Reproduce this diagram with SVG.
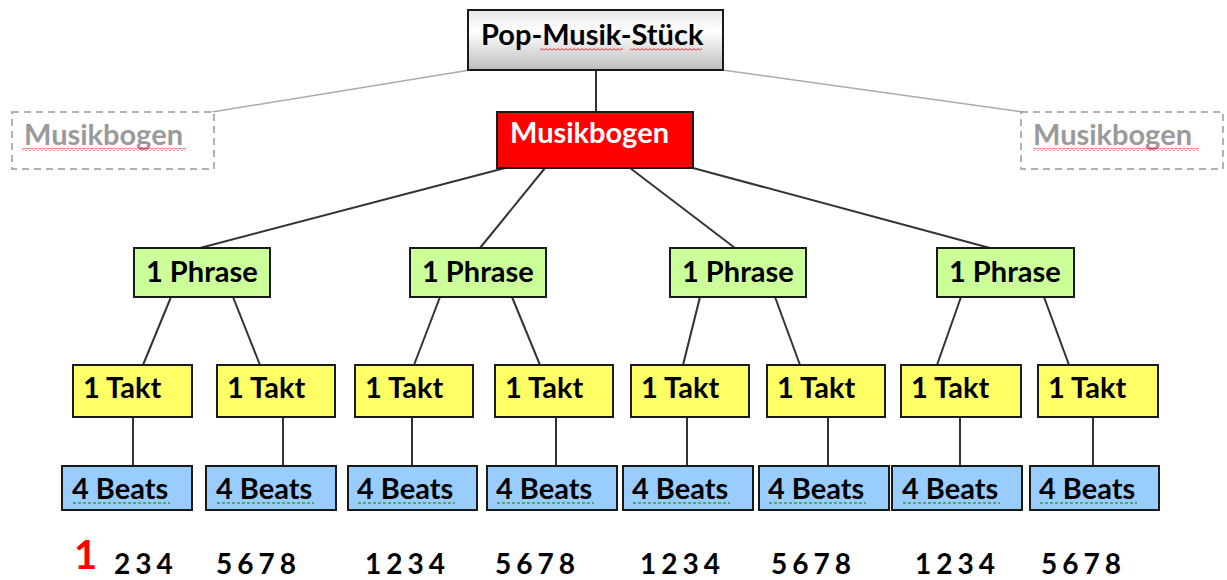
<svg xmlns="http://www.w3.org/2000/svg" width="1227" height="580" viewBox="0 0 1227 580">
<defs>
<linearGradient id="g" x1="0" y1="0" x2="0" y2="1">
<stop offset="0" stop-color="#e6e6e6"/>
<stop offset="0.35" stop-color="#ffffff"/>
<stop offset="1" stop-color="#bdbdbd"/>
</linearGradient>
<pattern id="wave" x="0" y="0" width="4" height="3" patternUnits="userSpaceOnUse">
<path d="M0,2.5 L2,0.5 L4,2.5" fill="none" stroke="#e02020" stroke-width="1"/>
</pattern>
<style>
text{font-family:Lato,"Open Sans","Liberation Sans",sans-serif;font-weight:bold;}
.box{stroke:#1a1a1a;stroke-width:2;}
.phr{fill:#ccff99;}
.tak{fill:#ffff66;}
.bea{fill:#99ccff;}
.t{font-size:29px;fill:#000;}
.dash{fill:#fff;stroke:#999;stroke-width:1.5;stroke-dasharray:7 5;}
.gt{font-size:29px;fill:#9a9a9a;}
.ln{stroke:#333;stroke-width:2;fill:none;}
.gl{stroke:#aaa;stroke-width:1.5;fill:none;}
.num{font-size:28px;fill:#000;letter-spacing:5px;}
.sq{fill:url(#wave);}
.gd{stroke:#3a9a3a;stroke-width:1.5;stroke-dasharray:3 2;}
</style>
</defs>
<g id="connectors">
<line class="gl" x1="470" y1="70" x2="212" y2="112"/>
<line class="gl" x1="722" y1="70" x2="1023" y2="112"/>
<line class="ln" x1="596" y1="70" x2="596" y2="112"/>
<line class="ln" x1="505" y1="168" x2="200" y2="248"/>
<line class="ln" x1="545" y1="168" x2="480" y2="248"/>
<line class="ln" x1="630" y1="168" x2="735" y2="248"/>
<line class="ln" x1="693" y1="168" x2="990" y2="248"/>
<line class="ln" x1="171" y1="297" x2="143" y2="365"/>
<line class="ln" x1="233" y1="297" x2="260" y2="365"/>
<line class="ln" x1="440" y1="297" x2="414" y2="365"/>
<line class="ln" x1="512" y1="297" x2="540" y2="365"/>
<line class="ln" x1="700" y1="297" x2="683" y2="365"/>
<line class="ln" x1="775" y1="297" x2="800" y2="365"/>
<line class="ln" x1="961" y1="297" x2="937" y2="365"/>
<line class="ln" x1="1044" y1="297" x2="1069" y2="365"/>
<line class="ln" x1="133" y1="417" x2="133" y2="466"/>
<line class="ln" x1="283" y1="417" x2="283" y2="466"/>
<line class="ln" x1="412" y1="417" x2="412" y2="466"/>
<line class="ln" x1="556" y1="417" x2="556" y2="466"/>
<line class="ln" x1="687" y1="417" x2="687" y2="466"/>
<line class="ln" x1="828" y1="417" x2="828" y2="466"/>
<line class="ln" x1="960" y1="417" x2="960" y2="466"/>
<line class="ln" x1="1093" y1="417" x2="1093" y2="466"/>
</g>
<g id="top"><rect class="box" x="468" y="10" width="255" height="60" fill="url(#g)"/><text class="t" x="481" y="45">Pop-Musik-Stück</text>
<rect class="sq" x="540" y="48" width="83" height="3"/><rect class="sq" x="630" y="48" width="72" height="3"/></g>
<g id="mb-left"><rect class="dash" x="12" y="112" width="202" height="57"/><text class="gt" x="24" y="145">Musikbogen</text><rect class="sq" x="22" y="148" width="164" height="3"/></g>
<g id="mb-right"><rect class="dash" x="1021" y="112" width="202" height="57"/><text class="gt" x="1033" y="145">Musikbogen</text><rect class="sq" x="1033" y="148" width="166" height="3"/></g>
<g id="mb-main"><rect class="box" x="497" y="112" width="196" height="56" fill="#ff0000"/><text class="t" x="510" y="143" style="fill:#fff">Musikbogen</text></g>
<g id="phrase1"><rect class="box phr" x="134" y="248" width="136" height="49"/><text class="t" x="146" y="282">1 Phrase</text></g>
<g id="phrase2"><rect class="box phr" x="410" y="248" width="136" height="49"/><text class="t" x="422" y="282">1 Phrase</text></g>
<g id="phrase3"><rect class="box phr" x="670" y="248" width="136" height="49"/><text class="t" x="682" y="282">1 Phrase</text></g>
<g id="phrase4"><rect class="box phr" x="937" y="248" width="137" height="49"/><text class="t" x="949" y="282">1 Phrase</text></g>
<g id="takt1"><rect class="box tak" x="73" y="365" width="119" height="52"/><text class="t" x="83" y="398">1 Takt</text></g>
<g id="takt2"><rect class="box tak" x="217" y="365" width="118" height="52"/><text class="t" x="227" y="398">1 Takt</text></g>
<g id="takt3"><rect class="box tak" x="355" y="365" width="118" height="52"/><text class="t" x="365" y="398">1 Takt</text></g>
<g id="takt4"><rect class="box tak" x="495" y="365" width="118" height="52"/><text class="t" x="505" y="398">1 Takt</text></g>
<g id="takt5"><rect class="box tak" x="631" y="365" width="118" height="52"/><text class="t" x="641" y="398">1 Takt</text></g>
<g id="takt6"><rect class="box tak" x="767" y="365" width="118" height="52"/><text class="t" x="777" y="398">1 Takt</text></g>
<g id="takt7"><rect class="box tak" x="901" y="365" width="120" height="52"/><text class="t" x="911" y="398">1 Takt</text></g>
<g id="takt8"><rect class="box tak" x="1038" y="365" width="120" height="52"/><text class="t" x="1048" y="398">1 Takt</text></g>
<g id="beats1"><rect class="box bea" x="62" y="466" width="130" height="44"/><text class="t" x="72" y="499">4 Beats</text><line class="gd" x1="73" y1="503" x2="170" y2="503"/></g>
<g id="beats2"><rect class="box bea" x="206" y="466" width="130" height="44"/><text class="t" x="216" y="499">4 Beats</text><line class="gd" x1="217" y1="503" x2="314" y2="503"/></g>
<g id="beats3"><rect class="box bea" x="348" y="466" width="129" height="44"/><text class="t" x="357" y="499">4 Beats</text><line class="gd" x1="358" y1="503" x2="455" y2="503"/></g>
<g id="beats4"><rect class="box bea" x="487" y="466" width="130" height="44"/><text class="t" x="496" y="499">4 Beats</text><line class="gd" x1="497" y1="503" x2="594" y2="503"/></g>
<g id="beats5"><rect class="box bea" x="623" y="466" width="130" height="44"/><text class="t" x="632" y="499">4 Beats</text><line class="gd" x1="633" y1="503" x2="730" y2="503"/></g>
<g id="beats6"><rect class="box bea" x="759" y="466" width="130" height="44"/><text class="t" x="768" y="499">4 Beats</text><line class="gd" x1="769" y1="503" x2="866" y2="503"/></g>
<g id="beats7"><rect class="box bea" x="892" y="466" width="130" height="44"/><text class="t" x="902" y="499">4 Beats</text><line class="gd" x1="903" y1="503" x2="1000" y2="503"/></g>
<g id="beats8"><rect class="box bea" x="1030" y="466" width="129" height="44"/><text class="t" x="1039" y="499">4 Beats</text><line class="gd" x1="1040" y1="503" x2="1137" y2="503"/></g>
<g id="counts">
<text x="74" y="569" style="font-size:40px;fill:#ff0000">1</text>
<text class="num" x="114" y="574">234</text>
<text class="num" x="216" y="574">5678</text>
<text class="num" x="365" y="574">1234</text>
<text class="num" x="495" y="574">5678</text>
<text class="num" x="640" y="574">1234</text>
<text class="num" x="771" y="574">5678</text>
<text class="num" x="915" y="574">1234</text>
<text class="num" x="1041" y="574">5678</text>
</g>
</svg>
